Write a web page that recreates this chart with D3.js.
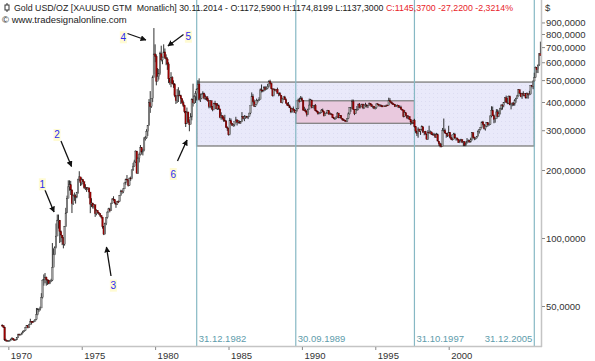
<!DOCTYPE html>
<html>
<head>
<meta charset="utf-8">
<script src="https://cdn.jsdelivr.net/npm/d3@7"></script>
<style>
  body { margin: 0; background: #fff; }
  svg { display: block; font-family: "Liberation Sans", Arial, sans-serif; }
</style>
</head>
<body>
<div id="wrapper"></div>
<script>
// monthly gold bars, one row per year (null = no bar). 1969 starts in September, 2006 ends in May.
const years = [1969,1970,1971,1972,1973,1974,1975,1976,1977,1978,1979,1980,1981,1982,1983,1984,1985,1986,1987,1988,1989,1990,1991,1992,1993,1994,1995,1996,1997,1998,1999,2000,2001,2002,2003,2004,2005,2006]
const firstOpen = 41.1

const closeP = [
  [null,null,null,null,null,null,null,null,40.9,40.3,35.4,35.2],
  [34.9,35.0,35.1,35.6,36.0,35.4,35.3,35.4,36.2,37.5,37.4,37.4],
  [38.0,38.7,38.9,40.2,40.9,40.1,41.4,42.7,42.6,42.5,42.9,43.6],
  [45.8,48.3,48.4,49.0,54.6,65.1,65.7,67.0,65.5,64.9,62.9,63.9],
  [65.1,74.2,84.4,90.5,102.0,120.0,120.0,106.8,103.0,100.1,94.0,112.3],
  [129.0,150.0,168.4,172.0,163.3,142.0,154.0,154.5,151.8,158.8,181.0,186.5],
  [175.8,181.8,177.3,167.0,167.0,165.2,166.7,159.8,141.3,142.9,138.3,140.3],
  [128.2,132.3,129.6,128.4,126.0,123.8,112.5,104.0,116.0,123.2,130.3,134.5],
  [132.3,142.8,148.9,147.8,143.0,141.0,145.2,145.1,154.1,161.5,160.2,165.0],
  [175.2,182.3,181.0,170.9,184.2,183.1,200.3,208.1,217.1,242.6,193.4,226.0],
  [233.7,251.3,240.1,245.3,274.6,277.5,296.5,315.1,397.3,382.0,415.7,512.0],
  [653.0,637.0,494.5,518.0,535.5,653.5,614.3,631.3,666.8,629.0,619.8,589.8],
  [506.5,489.0,513.8,482.8,479.3,426.0,406.0,425.5,428.8,427.0,414.3,397.5],
  [387.0,362.6,320.0,361.3,325.3,317.5,342.9,411.5,397.0,423.3,436.0,456.9],
  [481.0,410.0,414.8,432.5,437.5,416.0,422.0,414.3,405.0,382.0,405.0,382.4],
  [370.0,395.0,394.5,373.0,384.8,373.0,342.0,348.3,341.3,333.0,329.0,309.0],
  [306.5,287.0,330.5,321.5,315.0,317.0,327.0,333.3,325.0,325.5,325.3,327.0],
  [345.5,338.3,344.0,345.0,342.6,345.5,357.5,384.7,423.2,401.0,383.5,390.9],
  [405.5,405.5,409.3,452.5,451.0,447.5,462.5,453.4,459.5,468.8,492.5,484.1],
  [458.0,426.3,456.9,448.7,455.7,436.6,437.4,428.9,397.5,412.3,421.3,410.2],
  [394.8,387.5,384.5,376.8,361.7,373.0,368.3,359.8,366.5,375.3,408.2,401.0],
  [415.1,407.7,368.5,367.8,363.0,352.2,372.3,387.8,408.4,379.5,384.9,386.2],
  [366.0,362.7,355.7,357.1,359.7,368.4,362.9,347.4,354.9,357.5,366.3,353.2],
  [354.5,353.2,341.7,337.3,337.6,343.4,357.3,340.3,349.0,339.3,334.2,332.9],
  [330.5,327.6,337.8,354.3,377.5,378.5,401.8,371.6,355.5,369.6,370.9,391.8],
  [377.9,381.6,391.2,376.5,387.6,388.3,384.0,385.8,394.9,389.1,383.1,383.3],
  [375.2,377.0,392.2,389.4,385.3,387.1,383.4,383.0,384.0,382.7,387.6,387.0],
  [405.6,400.7,396.4,392.0,391.0,382.0,385.4,387.2,379.2,379.5,371.3,369.0],
  [345.5,358.6,348.2,340.2,344.9,334.6,326.4,325.4,332.1,311.4,296.8,290.2],
  [303.7,297.3,301.0,310.7,293.6,296.3,288.7,273.4,293.9,292.3,294.7,287.8],
  [287.1,287.3,279.5,286.6,268.6,261.3,255.6,254.8,299.0,299.1,291.4,290.3],
  [283.3,293.7,279.0,274.0,272.3,288.2,276.8,277.0,273.7,264.5,269.1,272.7],
  [265.6,266.7,257.7,263.2,267.5,270.6,265.9,273.0,293.1,278.8,275.5,276.5],
  [282.3,296.9,301.4,308.2,326.6,318.5,304.7,312.8,323.7,316.9,319.1,347.2],
  [367.5,347.5,334.9,336.8,361.4,346.0,354.8,375.6,388.0,386.3,398.4,417.3],
  [399.8,395.9,423.7,388.5,393.3,395.8,391.4,407.3,415.7,425.6,453.4,438.0],
  [422.2,435.5,428.8,435.7,416.9,435.6,429.7,434.0,473.3,469.9,495.6,513.0],
  [569.0,556.0,583.8,654.5,643.0]
]
const highP = [
  [null,null,null,null,null,null,null,null,41.5,41.0,40.5,35.8],
  [35.2,35.2,35.3,35.9,36.4,35.9,35.6,35.6,36.4,37.7,37.7,37.6],
  [38.1,38.9,39.0,40.4,41.0,41.0,41.7,43.9,42.9,42.9,43.2,43.6],
  [49.0,49.0,48.8,49.7,57.0,65.5,69.0,70.0,67.5,65.5,64.5,65.2],
  [66.0,95.0,90.0,92.0,116.0,127.0,127.0,120.0,108.0,103.0,101.0,113.0],
  [136.0,154.0,180.0,180.0,179.0,164.0,156.0,159.0,156.0,160.0,183.0,197.5],
  [185.0,185.0,181.0,178.0,173.0,168.0,168.0,166.0,159.0,150.0,143.0,141.0],
  [140.0,134.0,133.0,130.0,128.5,126.0,124.0,113.0,117.0,123.5,131.0,136.0],
  [136.0,143.0,150.0,153.0,148.0,143.0,146.0,146.5,155.0,163.5,163.0,166.0],
  [176.0,183.0,190.0,181.0,185.0,187.0,201.0,215.0,222.0,244.0,243.0,227.0],
  [239.0,258.0,251.0,247.0,280.0,283.0,303.0,316.0,412.0,447.0,416.0,524.0],
  [850.0,720.0,650.0,565.0,560.0,668.0,710.0,635.0,720.0,690.0,650.0,630.0],
  [600.0,507.0,542.0,520.0,499.0,485.0,425.0,456.0,465.0,450.0,431.0,415.0],
  [406.0,389.0,364.0,378.0,362.0,335.0,357.0,415.0,482.0,430.0,447.0,458.0],
  [500.0,509.0,436.0,436.0,446.0,440.0,432.0,421.0,424.0,397.0,406.0,406.0],
  [384.0,397.0,405.0,395.0,395.0,390.0,373.0,360.0,349.0,346.0,351.0,333.0],
  [312.0,307.0,340.0,338.0,323.0,320.0,327.0,344.0,335.0,333.0,331.0,329.0],
  [361.0,346.0,350.0,348.0,347.0,347.0,357.0,385.0,441.0,433.0,410.0,392.0],
  [414.0,409.0,420.0,459.0,478.0,454.0,470.0,470.0,465.0,481.0,499.0,502.0],
  [487.0,459.0,458.0,456.0,456.0,463.0,440.0,443.0,430.0,416.0,423.0,426.0],
  [415.0,398.0,400.0,390.0,378.0,376.0,382.0,372.0,368.0,375.0,414.0,418.0],
  [425.0,422.0,407.0,381.0,374.0,367.0,373.0,414.0,413.0,409.0,386.0,388.0],
  [392.0,369.0,364.0,361.0,362.0,372.0,374.0,363.0,357.0,362.0,369.0,367.0],
  [360.0,356.0,354.0,343.0,340.0,345.0,361.0,358.0,350.0,350.0,340.0,337.0],
  [334.0,332.0,339.0,360.0,379.0,380.0,410.0,410.0,370.0,371.0,384.0,392.0],
  [396.0,386.0,393.0,393.0,390.0,397.0,390.0,387.0,398.0,396.0,392.0,386.0],
  [381.0,380.0,394.0,396.0,391.0,391.0,389.0,387.0,386.0,387.0,389.0,389.0],
  [418.0,416.0,401.0,398.0,395.0,392.0,388.0,390.0,388.0,385.0,385.0,373.0],
  [369.0,368.0,357.0,349.0,349.0,345.0,335.0,330.0,334.0,337.0,313.0,299.0],
  [309.0,304.0,302.0,315.0,310.0,297.0,298.0,290.0,300.0,314.0,299.0,296.0],
  [292.0,292.0,290.0,292.0,290.0,267.0,264.0,262.0,307.0,338.0,305.0,292.0],
  [292.0,314.0,294.0,287.0,278.0,292.0,292.0,279.0,278.0,274.0,272.0,275.0],
  [273.0,268.0,268.0,264.0,277.0,273.0,271.0,278.0,294.0,291.0,281.0,278.0],
  [283.0,300.0,304.0,309.0,327.0,330.0,320.0,315.0,326.0,326.0,322.0,348.0],
  [383.0,382.0,352.0,340.0,372.0,371.0,367.0,377.0,390.0,391.0,399.0,417.0],
  [427.0,417.0,427.0,427.0,395.0,398.0,399.0,412.0,418.0,430.0,456.0,454.0],
  [439.0,439.0,446.0,436.0,435.0,441.0,430.0,448.0,474.0,476.0,497.0,539.0],
  [574.0,572.0,584.0,654.0,740.0]
]
const lowP = [
  [null,null,null,null,null,null,null,null,40.5,40.0,35.0,34.8],
  [34.8,34.8,34.9,35.1,35.5,35.2,35.2,35.2,35.4,36.2,37.1,37.2],
  [37.3,37.9,38.4,38.8,40.1,39.8,40.0,41.4,41.4,42.1,42.4,42.7],
  [43.4,45.5,47.0,47.7,49.0,54.0,61.5,63.0,61.5,62.0,62.4,62.5],
  [63.9,64.5,77.0,84.0,90.0,104.0,110.0,95.0,96.0,93.0,90.0,92.5],
  [112.0,130.0,150.0,162.0,155.0,129.0,140.0,146.0,142.0,150.0,157.0,178.0],
  [170.0,171.0,173.0,165.0,163.0,160.0,163.0,150.0,128.8,137.0,135.0,135.0],
  [124.0,126.0,128.0,126.5,124.0,122.0,110.0,103.0,104.0,114.0,122.0,130.0],
  [130.0,132.0,142.0,146.0,141.0,136.0,140.0,143.0,144.5,154.0,157.0,158.0],
  [165.0,172.0,178.0,169.0,170.0,179.0,182.0,198.0,207.0,215.0,193.0,192.0],
  [216.0,232.0,234.0,232.0,242.0,270.0,275.0,283.0,315.0,358.0,377.0,400.0],
  [532.0,600.0,474.0,495.0,503.0,528.0,605.0,588.0,632.0,620.0,582.0,555.0],
  [485.0,477.0,465.0,481.0,462.0,420.0,392.0,396.0,400.0,427.0,392.0,393.0],
  [380.0,357.0,310.0,324.0,325.0,296.8,320.0,332.0,382.0,392.0,396.0,406.0],
  [454.0,406.0,400.0,412.0,432.0,411.0,408.0,406.0,401.0,375.0,376.0,371.0],
  [364.0,368.0,387.0,371.0,369.0,369.0,339.0,334.0,336.0,327.0,328.0,307.0],
  [298.0,284.0,285.0,317.0,313.0,311.0,312.0,324.0,315.0,322.0,321.0,320.0],
  [326.0,335.0,329.0,337.0,339.0,336.0,345.0,353.0,384.0,395.0,380.0,380.0],
  [390.0,398.0,404.0,415.0,441.0,442.0,446.0,449.0,453.0,456.0,464.0,478.0],
  [455.0,423.0,424.0,448.0,443.0,436.0,424.0,427.0,396.0,394.0,410.0,410.0],
  [394.0,386.0,383.0,376.0,357.0,359.0,367.0,359.0,355.0,363.0,372.0,398.0],
  [401.0,402.0,366.0,367.0,359.0,345.0,351.0,371.0,387.0,375.0,376.0,371.0],
  [365.0,360.0,352.0,353.0,355.0,358.0,360.0,345.0,347.0,355.0,356.0,352.0],
  [350.0,350.0,340.0,336.0,333.0,336.0,342.0,339.0,339.0,338.0,331.0,330.0],
  [327.0,326.0,326.0,336.0,352.0,362.0,372.0,369.0,350.0,354.0,365.0,368.0],
  [375.0,375.0,380.0,372.0,374.0,381.0,378.0,376.0,385.0,386.0,381.0,375.0],
  [372.0,371.0,374.0,388.0,382.0,382.0,382.0,380.0,382.0,381.0,381.0,384.0],
  [387.0,398.0,392.0,389.0,389.0,380.0,380.0,385.0,378.0,377.0,370.0,366.0],
  [342.0,343.0,346.0,336.0,336.0,334.0,316.0,319.0,320.0,308.0,291.0,283.0],
  [278.0,295.0,286.0,299.0,293.0,285.0,287.0,273.0,272.0,290.0,289.0,286.0],
  [285.0,283.0,278.0,279.0,268.0,256.0,252.0,252.0,255.0,294.0,290.0,278.0],
  [280.0,282.0,276.0,272.0,270.0,273.0,276.0,270.0,270.0,264.0,263.0,268.0],
  [263.0,255.0,255.0,255.0,262.0,265.0,265.0,265.0,270.0,277.0,271.0,273.0],
  [277.0,282.0,290.0,300.0,306.0,315.0,302.0,299.0,310.0,311.0,314.0,317.0],
  [342.0,346.0,322.0,324.0,337.0,342.0,343.0,352.0,368.0,370.0,379.0,396.0],
  [399.0,391.0,392.0,387.0,371.0,383.0,385.0,385.0,397.0,414.0,423.0,434.0],
  [420.0,413.0,424.0,424.0,414.0,415.0,414.0,429.0,432.0,464.0,456.0,494.0],
  [512.0,538.0,537.0,577.0,640.0]
]

// marked periods (decimal year of the month bar) and their labels
const markDates = [1982.958, 1989.708, 1997.792, 2005.958]
const markLabels = ["31.12.1982", "30.09.1989", "31.10.1997", "31.12.2005"]
// trading ranges: [from, to, low, high]
const rangeBig = [1982.958, 2005.958, 255.5, 490]
const rangeSmall = [1989.708, 1997.792, 322, 405]

// numbered annotations: label position and arrow [fromT, fromV, toT, toV]
const noteLabels = ["1", "2", "3", "4", "5", "6"]
const notePos = [[1972.44, 172.9], [1973.44, 285.8], [1977.28, 61.5], [1977.96, 773.4], [1982.39, 778.3], [1981.36, 192]]
const noteArrows = [
  [1972.62, 163.1, 1973.24, 130.3],
  [1973.71, 268.8, 1974.43, 207.3],
  [1977.12, 67.9, 1976.81, 91.2],
  [1978.24, 804, 1979.50, 752.5],
  [1982.06, 796, 1981.00, 708],
  [1981.65, 219.3, 1982.30, 271.6]
]

const yTicks = [50, 100, 200, 300, 400, 500, 600, 700, 800, 900]
const xTicks = [1970, 1975, 1980, 1985, 1990, 1995, 2000]

// build bar table
const bars = []
let prevClose = firstOpen
years.forEach((yr, i) => {
  closeP[i].forEach((c, m) => {
    if (c == null) return
    bars.push({ t: yr + (m + 0.5) / 12, o: prevClose, h: highP[i][m], l: lowP[i][m], c: c })
    prevClose = c
  })
})

const width = 595
const height = 361
const plotRight = 541
const plotBottom = 346

const svg = d3.select("#wrapper").append("svg")
  .attr("width", width)
  .attr("height", height)

const xScale = d3.scaleLinear()
  .domain([1982.958, 2005.958])
  .range([196.7, 534.3])

const yScale = d3.scaleLog()
  .domain([100, 800])
  .range([238, 34])

// pattern for the big range box
const defs = svg.append("defs")
const pat = defs.append("pattern")
  .attr("id", "dots").attr("width", 4).attr("height", 4)
  .attr("patternUnits", "userSpaceOnUse")
pat.append("rect").attr("width", 4).attr("height", 4).attr("fill", "#e9e9fa")
pat.append("rect").attr("x", 1).attr("y", 1).attr("width", 1).attr("height", 1).attr("fill", "#dcdcf2")

defs.append("marker")
  .attr("id", "head").attr("viewBox", "0 0 10 10")
  .attr("refX", 9).attr("refY", 5)
  .attr("markerWidth", 6).attr("markerHeight", 6)
  .attr("markerUnits", "userSpaceOnUse")
  .attr("orient", "auto")
  .append("path").attr("d", "M0,0 L10,5 L0,10 Z").attr("fill", "#111")

// boxes
svg.append("rect")
  .attr("x", xScale(rangeBig[0])).attr("width", xScale(rangeBig[1]) - xScale(rangeBig[0]))
  .attr("y", yScale(rangeBig[3])).attr("height", yScale(rangeBig[2]) - yScale(rangeBig[3]))
  .attr("fill", "url(#dots)").attr("stroke", "#8c8c8c").attr("stroke-width", 1.5)

svg.append("rect")
  .attr("x", xScale(rangeSmall[0])).attr("width", xScale(rangeSmall[1]) - xScale(rangeSmall[0]))
  .attr("y", yScale(rangeSmall[3])).attr("height", yScale(rangeSmall[2]) - yScale(rangeSmall[3]))
  .attr("fill", "#e9c9de").attr("stroke", "#7a7a7a").attr("stroke-width", 1.2)

// vertical marker lines
svg.selectAll(".vline")
  .data(markDates)
  .join("line")
  .attr("class", "vline")
  .attr("x1", d => xScale(d)).attr("x2", d => xScale(d))
  .attr("y1", 0).attr("y2", plotBottom)
  .attr("stroke", "#86b8c4").attr("stroke-width", 1.2)

svg.selectAll(".vlabel")
  .data(markDates)
  .join("text")
  .attr("class", "vlabel")
  .attr("x", (d, i) => i == markDates.length - 1 ? xScale(d) - 2 : xScale(d) + 2)
  .attr("y", 342)
  .attr("text-anchor", (d, i) => i == markDates.length - 1 ? "end" : "start")
  .attr("fill", "#5e9cab")
  .style("font-size", "9.5px")
  .text((d, i) => markLabels[i])

// candles
const candles = svg.append("g")
candles.selectAll("line")
  .data(bars)
  .join("line")
  .attr("x1", d => xScale(d.t)).attr("x2", d => xScale(d.t))
  .attr("y1", d => yScale(d.h)).attr("y2", d => yScale(d.l))
  .attr("stroke", "#1b1b1b").attr("stroke-width", 0.9)

candles.selectAll("rect")
  .data(bars)
  .join("rect")
  .attr("x", d => xScale(d.t) - 0.8)
  .attr("width", 1.6)
  .attr("y", d => yScale(Math.max(d.o, d.c)))
  .attr("height", d => Math.max(0.8, Math.abs(yScale(d.o) - yScale(d.c))))
  .attr("fill", d => d.c >= d.o ? "#9a9a9a" : "#9e0000")
  .attr("stroke", d => d.c >= d.o ? "#333" : "#4a0000")
  .attr("stroke-width", 0.3)

// annotations
svg.selectAll(".arrow")
  .data(noteArrows)
  .join("line")
  .attr("class", "arrow")
  .attr("x1", d => xScale(d[0])).attr("y1", d => yScale(d[1]))
  .attr("x2", d => xScale(d[2])).attr("y2", d => yScale(d[3]))
  .attr("stroke", "#111").attr("stroke-width", 1.3)
  .attr("marker-end", "url(#head)")

const notes = svg.selectAll(".note")
  .data(notePos)
  .join("g")
  .attr("class", "note")
  .attr("transform", d => `translate(${xScale(d[0])},${yScale(d[1])})`)
notes.append("rect")
  .attr("x", -3.5).attr("y", -6).attr("width", 7).attr("height", 12)
  .attr("fill", "#fffbd2")
notes.append("text")
  .attr("text-anchor", "middle").attr("dy", "0.35em")
  .attr("fill", "#2b2bf0")
  .style("font-size", "10px")
  .text((d, i) => noteLabels[i])

// frame
svg.append("line").attr("x1", 0).attr("x2", plotRight + 1).attr("y1", plotBottom + 0.5).attr("y2", plotBottom + 0.5)
  .attr("stroke", "#c4c4c4").attr("stroke-width", 1.5)
svg.append("line").attr("x1", plotRight + 0.5).attr("x2", plotRight + 0.5).attr("y1", 0).attr("y2", plotBottom + 1)
  .attr("stroke", "#c4c4c4").attr("stroke-width", 1.5)

// axes
const yAxis = svg.append("g")
  .attr("transform", `translate(${plotRight + 1},0)`)
  .call(d3.axisRight(yScale).tickValues(yTicks).tickSize(3).tickPadding(1)
    .tickFormat(d => d3.format(".4f")(d).replace(".", ",")))
yAxis.select(".domain").remove()
yAxis.selectAll("line").attr("stroke", "#888")
yAxis.selectAll("text").attr("fill", "#333").style("font-size", "9.5px").style("font-family", "Liberation Sans, Arial, sans-serif")

const xAxis = svg.append("g")
  .attr("transform", `translate(0,${plotBottom + 1})`)
  .call(d3.axisBottom(xScale).tickValues(xTicks.map(y => y + 0.125)).tickSize(3).tickPadding(2)
    .tickFormat(d => Math.floor(d)))
xAxis.select(".domain").remove()
xAxis.selectAll("line").attr("stroke", "#888")
xAxis.selectAll("text").attr("fill", "#333").attr("text-anchor", "start").attr("x", 2)
  .style("font-size", "9.5px").style("font-family", "Liberation Sans, Arial, sans-serif")

svg.append("text").attr("x", 545).attr("y", 11).attr("fill", "#333").style("font-size", "9.5px").text("$")

// header
const icon = svg.append("g").attr("transform", "translate(5,3)")
icon.append("line").attr("x1", 2).attr("x2", 2).attr("y1", 0).attr("y2", 9).attr("stroke", "#333")
icon.append("rect").attr("x", 0).attr("y", 2).attr("width", 4).attr("height", 5).attr("fill", "#fff").attr("stroke", "#333")

const title = svg.append("text").attr("x", 14).attr("y", 11).style("font-size", "9.5px")
  .style("white-space", "pre")
title.append("tspan").attr("fill", "#222")
  .text("Gold USD/OZ [XAUUSD GTM  Monatlich] 30.11.2014 - O:1172,5900 H:1174,8199 L:1137,3000 ")
title.append("tspan").attr("fill", "#e8232a")
  .text("C:1145,3700 -27,2200 -2,3214%")
// fit the header line to the width it takes in the reference
const titleLen = title.node().getComputedTextLength()
title.style("font-size", (9.5 * 499 / titleLen).toFixed(2) + "px")

svg.append("text").attr("x", 2).attr("y", 22.5).attr("fill", "#222").style("font-size", "9.5px")
  .text("© www.tradesignalonline.com")
</script>
</body>
</html>
